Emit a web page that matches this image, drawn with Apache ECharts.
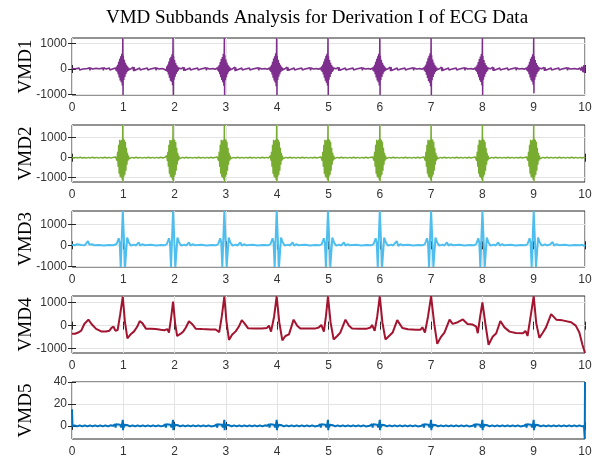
<!DOCTYPE html>
<html>
<head>
<meta charset="utf-8">
<title>VMD Subbands</title>
<script src="https://cdn.jsdelivr.net/npm/echarts@6/dist/echarts.min.js"></script>
<style>
  html, body { margin: 0; padding: 0; background: #fff; }
  #chart { width: 600px; height: 458px; }
</style>
</head>
<body>
<div id="chart"></div>
<script>
// chart text
const titleText = 'VMD Subbands Analysis for Derivation I of ECG Data'
const bandNames = ['VMD1', 'VMD2', 'VMD3', 'VMD4', 'VMD5']

// axis ranges and tick labels (seconds / amplitude)
const xMin = 0
const xMax = 10
const xStep = 1
const yMin = [-1020, -1215, -1035, -1190, -12]
const yMax = [1215, 1635, 1630, 1290, 40]
const yTicks = [
  [-1000, 0, 1000],
  [-1000, 0, 1000],
  [-1000, 0, 1000],
  [-1000, 0, 1000],
  [0, 20, 40]
]

// [time s, amplitude]
const vmd1 = [
  [0, 20], [0.03, -30], [0.07, 10], [0.14, 40], [0.15, -40], [0.16, 30], [0.21, 0], [0.3, 20], [0.34, 50], [0.35, -50], [0.36, 40], [0.4, 0], [0.47, 30], [0.48, -30], [0.53, 10], [0.6, 40], [0.61, -50], [0.62, 50], [0.66, 0], [0.73, 40], [0.74, -40], [0.8, 10],
  [0.85, 40], [0.86, -60], [0.87, 90], [0.88, -110], [0.89, 160], [0.9, -200], [0.91, 280], [0.92, -330], [0.93, 400], [0.94, -450], [0.95, 500], [0.96, -520], [0.97, 600], [0.98, -650], [0.99, 1215], [0.995, -1020], [1.0, 520], [1.01, -430], [1.02, 360], [1.03, -310], [1.04, 240], [1.05, -200], [1.06, 160], [1.07, -130], [1.08, 100], [1.09, -70], [1.1, 50], [1.11, -30],
  [1.15, 10], [1.19, 70], [1.2, -80], [1.21, 70], [1.22, -60], [1.25, 0], [1.32, 40], [1.33, -40], [1.34, 30], [1.39, 0], [1.47, 40], [1.48, -40], [1.53, 0], [1.63, 50], [1.64, -50], [1.65, 40], [1.7, 0], [1.76, 20], [1.8, -10],
  [1.83, 40], [1.84, -60], [1.85, 100], [1.86, -120], [1.87, 170], [1.88, -210], [1.89, 290], [1.9, -340], [1.91, 420], [1.92, -460], [1.93, 480], [1.94, -500], [1.95, 580], [1.96, -640], [1.97, 1215], [1.975, -1020], [1.98, 500], [1.99, -420], [2.0, 350], [2.01, -300], [2.02, 230], [2.03, -190], [2.04, 150], [2.05, -120], [2.06, 90], [2.07, -60], [2.08, 40], [2.09, -30],
  [2.13, 10], [2.17, 60], [2.18, -70], [2.19, 60], [2.2, -50], [2.23, 0], [2.3, 40], [2.31, -40], [2.32, 30], [2.37, 0], [2.45, 40], [2.46, -40], [2.51, 0], [2.61, 50], [2.62, -50], [2.63, 40], [2.68, 0], [2.75, 20], [2.79, -10],
  [2.83, 40], [2.84, -50], [2.85, 90], [2.86, -110], [2.87, 150], [2.88, -200], [2.89, 270], [2.9, -320], [2.91, 390], [2.92, -430], [2.93, 470], [2.94, -520], [2.95, 600], [2.96, -660], [2.97, 1215], [2.975, -1020], [2.98, 540], [2.99, -440], [3.0, 370], [3.01, -320], [3.02, 250], [3.03, -200], [3.04, 160], [3.05, -130], [3.06, 100], [3.07, -70], [3.08, 50], [3.09, -30],
  [3.13, 10], [3.17, 70], [3.18, -80], [3.19, 60], [3.2, -50], [3.23, 0], [3.31, 40], [3.32, -40], [3.33, 30], [3.38, 0], [3.46, 40], [3.47, -40], [3.52, 0], [3.63, 50], [3.64, -50], [3.65, 40], [3.7, 0], [3.76, 20], [3.81, -10],
  [3.85, 40], [3.86, -60], [3.87, 90], [3.88, -120], [3.89, 160], [3.9, -210], [3.91, 280], [3.92, -340], [3.93, 410], [3.94, -450], [3.95, 500], [3.96, -530], [3.97, 620], [3.98, -680], [3.99, 1215], [3.995, -1020], [4.0, 520], [4.01, -430], [4.02, 360], [4.03, -300], [4.04, 240], [4.05, -200], [4.06, 160], [4.07, -120], [4.08, 90], [4.09, -70], [4.1, 50], [4.11, -30],
  [4.15, 10], [4.19, 70], [4.2, -70], [4.21, 60], [4.22, -50], [4.25, 0], [4.33, 40], [4.34, -40], [4.35, 30], [4.4, 0], [4.48, 40], [4.49, -40], [4.54, 0], [4.64, 50], [4.65, -50], [4.66, 40], [4.71, 0], [4.77, 20], [4.81, -10],
  [4.85, 40], [4.86, -60], [4.87, 100], [4.88, -120], [4.89, 170], [4.9, -210], [4.91, 290], [4.92, -340], [4.93, 400], [4.94, -460], [4.95, 520], [4.96, -540], [4.97, 600], [4.98, -650], [4.99, 1215], [4.995, -1020], [5.0, 500], [5.01, -420], [5.02, 350], [5.03, -310], [5.04, 240], [5.05, -190], [5.06, 150], [5.07, -120], [5.08, 90], [5.09, -60], [5.1, 40], [5.11, -30],
  [5.15, 10], [5.19, 60], [5.2, -70], [5.21, 60], [5.22, -50], [5.25, 0], [5.33, 40], [5.34, -40], [5.35, 30], [5.4, 0], [5.48, 40], [5.49, -40], [5.54, 0], [5.65, 50], [5.66, -50], [5.67, 40], [5.72, 0], [5.78, 20], [5.82, -10],
  [5.86, 40], [5.87, -60], [5.88, 90], [5.89, -110], [5.9, 160], [5.91, -200], [5.92, 280], [5.93, -330], [5.94, 400], [5.95, -450], [5.96, 500], [5.97, -520], [5.98, 600], [5.99, -650], [6.0, 1215], [6.005, -1020], [6.01, 520], [6.02, -430], [6.03, 360], [6.04, -310], [6.05, 240], [6.06, -200], [6.07, 160], [6.08, -130], [6.09, 100], [6.1, -70], [6.11, 50], [6.12, -30],
  [6.16, 10], [6.2, 70], [6.21, -80], [6.22, 70], [6.23, -60], [6.26, 0], [6.34, 40], [6.35, -40], [6.36, 30], [6.41, 0], [6.49, 40], [6.5, -40], [6.55, 0], [6.65, 50], [6.66, -50], [6.67, 40], [6.72, 0], [6.78, 20], [6.82, -10],
  [6.86, 40], [6.87, -60], [6.88, 100], [6.89, -120], [6.9, 170], [6.91, -220], [6.92, 290], [6.93, -350], [6.94, 420], [6.95, -470], [6.96, 520], [6.97, -540], [6.98, 620], [6.99, -680], [7.0, 1215], [7.005, -1020], [7.01, 540], [7.02, -440], [7.03, 370], [7.04, -310], [7.05, 250], [7.06, -200], [7.07, 160], [7.08, -130], [7.09, 100], [7.1, -70], [7.11, 50], [7.12, -30],
  [7.16, 10], [7.2, 70], [7.21, -80], [7.22, 60], [7.23, -50], [7.26, 0], [7.34, 40], [7.35, -40], [7.36, 30], [7.41, 0], [7.49, 40], [7.5, -40], [7.55, 0], [7.65, 50], [7.66, -50], [7.67, 40], [7.72, 0], [7.78, 20], [7.82, -10],
  [7.86, 40], [7.87, -60], [7.88, 90], [7.89, -110], [7.9, 160], [7.91, -200], [7.92, 270], [7.93, -320], [7.94, 390], [7.95, -440], [7.96, 490], [7.97, -510], [7.98, 590], [7.99, -640], [8.0, 1215], [8.005, -1020], [8.01, 510], [8.02, -420], [8.03, 350], [8.04, -300], [8.05, 230], [8.06, -190], [8.07, 150], [8.08, -120], [8.09, 90], [8.1, -60], [8.11, 40], [8.12, -30],
  [8.16, 10], [8.2, 70], [8.21, -70], [8.22, 60], [8.23, -50], [8.26, 0], [8.34, 40], [8.35, -40], [8.36, 30], [8.41, 0], [8.49, 40], [8.5, -40], [8.55, 0], [8.65, 50], [8.66, -50], [8.67, 40], [8.72, 0], [8.78, 20], [8.82, -10],
  [8.86, 40], [8.87, -60], [8.88, 90], [8.89, -110], [8.9, 160], [8.91, -200], [8.92, 280], [8.93, -330], [8.94, 400], [8.95, -440], [8.96, 480], [8.97, -500], [8.98, 580], [8.99, -620], [9.0, 1215], [9.005, -950], [9.01, 500], [9.02, -420], [9.03, 350], [9.04, -300], [9.05, 230], [9.06, -190], [9.07, 150], [9.08, -120], [9.09, 90], [9.1, -60], [9.11, 40], [9.12, -30],
  [9.16, 10], [9.2, 60], [9.21, -70], [9.22, 60], [9.23, -50], [9.26, 0], [9.34, 40], [9.35, -40], [9.36, 30], [9.41, 0], [9.49, 40], [9.5, -40], [9.55, 0], [9.65, 50], [9.66, -50], [9.67, 40], [9.72, 0], [9.8, 20], [9.86, -10], [9.9, 40], [9.92, -60], [9.94, 90], [9.96, -120], [9.98, 150], [9.99, -160], [10, 120]
]

const vmd2 = [
  [0, 10], [0.04, -15], [0.08, 15], [0.12, -10], [0.16, 20], [0.2, -15], [0.24, 10], [0.28, -20], [0.32, 15], [0.36, -10], [0.4, 20], [0.44, -15], [0.48, 15], [0.52, -20], [0.56, 15], [0.6, -15], [0.64, 20], [0.68, -15], [0.72, 15], [0.76, -20], [0.8, 15], [0.83, -15],
  [0.85, 40], [0.86, -60], [0.87, 100], [0.88, -150], [0.89, 300], [0.9, -450], [0.91, 650], [0.92, -800], [0.93, 900], [0.94, -950], [0.95, 850], [0.96, -1000], [0.97, 900], [0.98, -1100], [0.99, 1635], [0.995, -1215], [1.0, 950], [1.01, -950], [1.02, 900], [1.03, -850], [1.04, 800], [1.05, -650], [1.06, 500], [1.07, -350], [1.08, 250], [1.09, -150], [1.1, 100], [1.11, -60], [1.12, 40], [1.13, -30],
  [1.17, 15], [1.21, -15], [1.25, 20], [1.29, -15], [1.33, 15], [1.37, -20], [1.41, 15], [1.45, -15], [1.49, 20], [1.53, -15], [1.57, 15], [1.61, -20], [1.65, 15], [1.69, -15], [1.73, 20], [1.77, -15], [1.81, 15],
  [1.83, 40], [1.84, -60], [1.85, 100], [1.86, -160], [1.87, 300], [1.88, -450], [1.89, 650], [1.9, -800], [1.91, 880], [1.92, -950], [1.93, 850], [1.94, -1000], [1.95, 900], [1.96, -1100], [1.97, 1635], [1.975, -1215], [1.98, 950], [1.99, -950], [2.0, 880], [2.01, -850], [2.02, 780], [2.03, -650], [2.04, 500], [2.05, -350], [2.06, 250], [2.07, -150], [2.08, 100], [2.09, -60], [2.1, 40], [2.11, -30],
  [2.15, 15], [2.19, -15], [2.23, 20], [2.27, -15], [2.31, 15], [2.35, -20], [2.39, 15], [2.43, -15], [2.47, 20], [2.51, -15], [2.55, 15], [2.59, -20], [2.63, 15], [2.67, -15], [2.71, 20], [2.75, -15], [2.79, 15],
  [2.83, 40], [2.84, -60], [2.85, 100], [2.86, -150], [2.87, 300], [2.88, -450], [2.89, 650], [2.9, -800], [2.91, 900], [2.92, -950], [2.93, 850], [2.94, -1000], [2.95, 900], [2.96, -1100], [2.97, 1635], [2.975, -1215], [2.98, 950], [2.99, -950], [3.0, 900], [3.01, -850], [3.02, 800], [3.03, -650], [3.04, 500], [3.05, -350], [3.06, 250], [3.07, -150], [3.08, 100], [3.09, -60], [3.1, 40], [3.11, -30],
  [3.15, 15], [3.19, -15], [3.23, 20], [3.27, -15], [3.31, 15], [3.35, -20], [3.39, 15], [3.43, -15], [3.47, 20], [3.51, -15], [3.55, 15], [3.59, -20], [3.63, 15], [3.67, -15], [3.71, 20], [3.75, -15], [3.79, 15], [3.83, -15],
  [3.85, 40], [3.86, -60], [3.87, 100], [3.88, -150], [3.89, 300], [3.9, -450], [3.91, 650], [3.92, -800], [3.93, 900], [3.94, -950], [3.95, 850], [3.96, -1000], [3.97, 900], [3.98, -1100], [3.99, 1635], [3.995, -1215], [4.0, 950], [4.01, -950], [4.02, 900], [4.03, -850], [4.04, 800], [4.05, -650], [4.06, 500], [4.07, -350], [4.08, 250], [4.09, -150], [4.1, 100], [4.11, -60], [4.12, 40], [4.13, -30],
  [4.17, 15], [4.21, -15], [4.25, 20], [4.29, -15], [4.33, 15], [4.37, -20], [4.41, 15], [4.45, -15], [4.49, 20], [4.53, -15], [4.57, 15], [4.61, -20], [4.65, 15], [4.69, -15], [4.73, 20], [4.77, -15], [4.81, 15], [4.83, -15],
  [4.85, 40], [4.86, -60], [4.87, 100], [4.88, -150], [4.89, 300], [4.9, -450], [4.91, 650], [4.92, -800], [4.93, 900], [4.94, -950], [4.95, 850], [4.96, -1000], [4.97, 900], [4.98, -1100], [4.99, 1635], [4.995, -1215], [5.0, 950], [5.01, -950], [5.02, 900], [5.03, -850], [5.04, 800], [5.05, -650], [5.06, 500], [5.07, -350], [5.08, 250], [5.09, -150], [5.1, 100], [5.11, -60], [5.12, 40], [5.13, -30],
  [5.17, 15], [5.21, -15], [5.25, 20], [5.29, -15], [5.33, 15], [5.37, -20], [5.41, 15], [5.45, -15], [5.49, 20], [5.53, -15], [5.57, 15], [5.61, -20], [5.65, 15], [5.69, -15], [5.73, 20], [5.77, -15], [5.81, 15], [5.84, -15],
  [5.86, 40], [5.87, -60], [5.88, 100], [5.89, -150], [5.9, 300], [5.91, -450], [5.92, 650], [5.93, -800], [5.94, 900], [5.95, -950], [5.96, 850], [5.97, -1000], [5.98, 900], [5.99, -1100], [6.0, 1635], [6.005, -1215], [6.01, 950], [6.02, -950], [6.03, 900], [6.04, -850], [6.05, 800], [6.06, -650], [6.07, 500], [6.08, -350], [6.09, 250], [6.1, -150], [6.11, 100], [6.12, -60], [6.13, 40], [6.14, -30],
  [6.18, 15], [6.22, -15], [6.26, 20], [6.3, -15], [6.34, 15], [6.38, -20], [6.42, 15], [6.46, -15], [6.5, 20], [6.54, -15], [6.58, 15], [6.62, -20], [6.66, 15], [6.7, -15], [6.74, 20], [6.78, -15], [6.82, 15], [6.84, -15],
  [6.86, 40], [6.87, -60], [6.88, 100], [6.89, -150], [6.9, 300], [6.91, -450], [6.92, 650], [6.93, -800], [6.94, 900], [6.95, -950], [6.96, 850], [6.97, -1000], [6.98, 900], [6.99, -1100], [7.0, 1635], [7.005, -1215], [7.01, 950], [7.02, -950], [7.03, 900], [7.04, -850], [7.05, 800], [7.06, -650], [7.07, 500], [7.08, -350], [7.09, 250], [7.1, -150], [7.11, 100], [7.12, -60], [7.13, 40], [7.14, -30],
  [7.18, 15], [7.22, -15], [7.26, 20], [7.3, -15], [7.34, 15], [7.38, -20], [7.42, 15], [7.46, -15], [7.5, 20], [7.54, -15], [7.58, 15], [7.62, -20], [7.66, 15], [7.7, -15], [7.74, 20], [7.78, -15], [7.82, 15], [7.84, -15],
  [7.86, 40], [7.87, -60], [7.88, 100], [7.89, -150], [7.9, 300], [7.91, -450], [7.92, 650], [7.93, -800], [7.94, 900], [7.95, -950], [7.96, 850], [7.97, -1000], [7.98, 900], [7.99, -1100], [8.0, 1635], [8.005, -1215], [8.01, 950], [8.02, -950], [8.03, 900], [8.04, -850], [8.05, 800], [8.06, -650], [8.07, 500], [8.08, -350], [8.09, 250], [8.1, -150], [8.11, 100], [8.12, -60], [8.13, 40], [8.14, -30],
  [8.18, 15], [8.22, -15], [8.26, 20], [8.3, -15], [8.34, 15], [8.38, -20], [8.42, 15], [8.46, -15], [8.5, 20], [8.54, -15], [8.58, 15], [8.62, -20], [8.66, 15], [8.7, -15], [8.74, 20], [8.78, -15], [8.82, 15], [8.84, -15],
  [8.86, 40], [8.87, -60], [8.88, 100], [8.89, -150], [8.9, 300], [8.91, -450], [8.92, 650], [8.93, -800], [8.94, 900], [8.95, -950], [8.96, 850], [8.97, -1000], [8.98, 900], [8.99, -1100], [9.0, 1635], [9.005, -1215], [9.01, 950], [9.02, -950], [9.03, 900], [9.04, -850], [9.05, 800], [9.06, -650], [9.07, 500], [9.08, -350], [9.09, 250], [9.1, -150], [9.11, 100], [9.12, -60], [9.13, 40], [9.14, -30],
  [9.18, 15], [9.22, -15], [9.26, 20], [9.3, -15], [9.34, 15], [9.38, -20], [9.42, 15], [9.46, -15], [9.5, 20], [9.54, -15], [9.58, 15], [9.62, -20], [9.66, 15], [9.7, -15], [9.74, 20], [9.78, -15], [9.82, 15], [9.86, -20], [9.9, 15], [9.94, -15], [9.98, 15], [10, 0]
]

const vmd3 = [
  [0, 20], [0.05, 0], [0.1, 50], [0.13, -20], [0.18, 10], [0.25, 0], [0.28, 60], [0.31, 200], [0.34, 30], [0.36, -60], [0.39, 50], [0.43, 0], [0.52, 10], [0.62, -10], [0.72, 10], [0.8, 0],
  [0.87, 60], [0.91, 330], [0.93, 120], [0.95, -1035], [0.99, 1630], [1.035, -1035], [1.075, 360], [1.11, 120], [1.15, -20], [1.21, 30], [1.25, -10], [1.3, 140], [1.33, -20], [1.37, 50], [1.42, 0], [1.54, 20], [1.64, -10], [1.74, 10], [1.81, 0],
  [1.85, 60], [1.89, 330], [1.91, 120], [1.93, -1035], [1.97, 1630], [2.015, -1035], [2.055, 360], [2.09, 120], [2.13, -20], [2.19, 30], [2.23, -10], [2.28, 140], [2.31, -20], [2.35, 50], [2.4, 0], [2.52, 20], [2.62, -10], [2.72, 10], [2.81, 0],
  [2.85, 60], [2.89, 330], [2.91, 120], [2.93, -1035], [2.97, 1630], [3.015, -1035], [3.055, 360], [3.09, 120], [3.13, -20], [3.19, 30], [3.23, -10], [3.28, 140], [3.31, -20], [3.35, 50], [3.4, 0], [3.52, 20], [3.62, -10], [3.72, 10], [3.83, 0],
  [3.87, 60], [3.91, 330], [3.93, 120], [3.95, -1035], [3.99, 1630], [4.035, -1035], [4.075, 360], [4.11, 120], [4.15, -20], [4.21, 30], [4.25, -10], [4.3, 140], [4.33, -20], [4.37, 50], [4.42, 0], [4.54, 20], [4.64, -10], [4.74, 10], [4.83, 0],
  [4.87, 60], [4.91, 330], [4.93, 120], [4.95, -1035], [4.99, 1630], [5.035, -1035], [5.075, 360], [5.11, 120], [5.15, -20], [5.21, 30], [5.25, -10], [5.3, 140], [5.33, -20], [5.37, 50], [5.42, 0], [5.54, 20], [5.64, -10], [5.74, 10], [5.84, 0],
  [5.88, 60], [5.92, 330], [5.94, 120], [5.96, -1035], [6.0, 1630], [6.045, -1035], [6.085, 360], [6.12, 120], [6.16, -20], [6.22, 30], [6.26, -10], [6.33, 200], [6.36, -30], [6.4, 50], [6.45, 0], [6.55, 20], [6.65, -10], [6.75, 10], [6.84, 0],
  [6.88, 60], [6.92, 330], [6.94, 120], [6.96, -1035], [7.0, 1630], [7.045, -1035], [7.085, 360], [7.12, 120], [7.16, -20], [7.22, 30], [7.26, -10], [7.31, 140], [7.34, -20], [7.38, 50], [7.43, 0], [7.55, 20], [7.65, -10], [7.75, 10], [7.84, 0],
  [7.88, 60], [7.92, 330], [7.94, 120], [7.96, -1035], [8.0, 1630], [8.045, -1035], [8.085, 360], [8.12, 120], [8.16, -20], [8.22, 30], [8.26, -10], [8.31, 140], [8.34, -20], [8.38, 50], [8.43, 0], [8.55, 20], [8.65, -10], [8.75, 10], [8.84, 0],
  [8.88, 60], [8.92, 330], [8.94, 120], [8.96, -1035], [9.0, 1630], [9.045, -1035], [9.085, 360], [9.12, 120], [9.16, -20], [9.22, 40], [9.26, -10], [9.32, 40], [9.37, 150], [9.4, -20], [9.44, 50], [9.5, 0], [9.6, 20], [9.7, -10], [9.8, 10], [9.9, 0], [9.95, 20], [10, -50]
]

const vmd4 = [
  [0, -350], [0.06, -350], [0.12, -300], [0.18, -220], [0.24, 70], [0.32, 260], [0.38, 70], [0.47, -140], [0.57, -250], [0.66, -250], [0.73, -220], [0.77, -100], [0.81, -40], [0.845, -220], [0.89, -190], [0.94, 500], [0.99, 1260], [1.03, 200], [1.08, -550], [1.15, -360], [1.21, -250], [1.27, -50], [1.32, 200], [1.375, 100], [1.44, -130], [1.54, -130], [1.63, -150], [1.73, -180], [1.8, -200], [1.83, -120], [1.86, -150], [1.89, -300],
  [1.93, 300], [1.97, 1050], [2.01, 100], [2.05, -450], [2.12, -350], [2.17, -250], [2.22, -80], [2.28, 190], [2.35, 50], [2.41, -130], [2.54, -150], [2.7, -170], [2.8, -170], [2.83, -100], [2.87, -280],
  [2.92, 400], [2.97, 1270], [3.01, 200], [3.06, -620], [3.12, -400], [3.19, -250], [3.25, -50], [3.31, 240], [3.37, 80], [3.43, -110], [3.55, -120], [3.7, -120], [3.8, -100], [3.84, 0], [3.88, -260],
  [3.94, 400], [3.99, 1280], [4.04, 150], [4.1, -640], [4.16, -450], [4.23, -380], [4.32, 260], [4.39, 0], [4.45, -120], [4.6, -120], [4.75, -120], [4.81, -80], [4.86, 30], [4.91, -260],
  [4.95, 400], [4.99, 1270], [5.04, 150], [5.1, -600], [5.17, -450], [5.23, -300], [5.33, 260], [5.4, 0], [5.46, -120], [5.6, -130], [5.75, -130], [5.82, -80], [5.85, 30], [5.9, -230],
  [5.95, 400], [6.0, 1280], [6.05, 150], [6.11, -600], [6.18, -450], [6.25, -300], [6.34, 240], [6.44, -100], [6.55, -160], [6.7, -180], [6.79, -180], [6.83, -70], [6.88, -300],
  [6.94, 400], [7.0, 1280], [7.06, 100], [7.12, -790], [7.19, -500], [7.26, -300], [7.36, 260], [7.42, 75], [7.52, 150], [7.62, 270], [7.71, 75], [7.81, 45], [7.88, -45], [7.91, -330],
  [7.95, 300], [8.0, 1010], [8.06, 50], [8.12, -830], [8.2, -480], [8.27, -330], [8.35, 200], [8.43, -75], [8.53, -260], [8.65, -320], [8.79, -330], [8.84, -230], [8.88, -450],
  [8.94, 400], [9.0, 1280], [9.05, 100], [9.11, -530], [9.18, -300], [9.24, -75], [9.34, 500], [9.44, 260], [9.56, 230], [9.73, 150], [9.82, 0], [9.89, -300], [9.95, -830], [10, -1190]
]

const vmd5 = [
  [0, 15], [0.01, -0.5], [0.05, 0.5], [0.1, -0.5], [0.15, 0.5], [0.2, -0.5], [0.25, 0.5], [0.3, -0.5], [0.35, 0.5], [0.4, -0.5], [0.45, 0.5], [0.5, -0.5], [0.55, 0.5], [0.6, -0.5], [0.65, 0.5], [0.7, -0.5], [0.75, 0.5], [0.8, 0],
  [0.84, 1.5], [0.85, -1.5], [0.86, 1.5], [0.88, 0], [0.94, 1], [0.96, -1.5], [0.98, 2.5], [0.99, 5.5], [0.995, -4], [1.0, 2], [1.01, -1.5], [1.03, 1], [1.06, -0.5], [1.09, 0.5],
  [1.13, -0.5], [1.18, 0.5], [1.23, -0.5], [1.28, 0.5], [1.33, -0.5], [1.38, 0.5], [1.43, -0.5], [1.48, 0.5], [1.53, -0.5], [1.58, 0.5], [1.63, -0.5], [1.68, 0.5], [1.73, -0.5], [1.78, 0],
  [1.82, 1.5], [1.83, -1.5], [1.84, 1.5], [1.86, 0], [1.92, 1], [1.94, -1.5], [1.96, 2.5], [1.97, 5.5], [1.975, -4], [1.98, 2], [1.99, -1.5], [2.01, 1], [2.04, -0.5], [2.07, 0.5],
  [2.11, -0.5], [2.16, 0.5], [2.21, -0.5], [2.26, 0.5], [2.31, -0.5], [2.36, 0.5], [2.41, -0.5], [2.46, 0.5], [2.51, -0.5], [2.56, 0.5], [2.61, -0.5], [2.66, 0.5], [2.71, -0.5], [2.78, 0],
  [2.82, 1.5], [2.83, -1.5], [2.84, 1.5], [2.86, 0], [2.92, 1], [2.94, -1.5], [2.96, 2.5], [2.97, 5.5], [2.975, -4], [2.98, 2], [2.99, -1.5], [3.01, 1], [3.04, -0.5], [3.07, 0.5],
  [3.11, -0.5], [3.16, 0.5], [3.21, -0.5], [3.26, 0.5], [3.31, -0.5], [3.36, 0.5], [3.41, -0.5], [3.46, 0.5], [3.51, -0.5], [3.56, 0.5], [3.61, -0.5], [3.66, 0.5], [3.71, -0.5], [3.76, 0.5], [3.8, 0],
  [3.84, 1.5], [3.85, -1.5], [3.86, 1.5], [3.88, 0], [3.94, 1], [3.96, -1.5], [3.98, 2.5], [3.99, 5.5], [3.995, -4], [4.0, 2], [4.01, -1.5], [4.03, 1], [4.06, -0.5], [4.09, 0.5],
  [4.13, -0.5], [4.18, 0.5], [4.23, -0.5], [4.28, 0.5], [4.33, -0.5], [4.38, 0.5], [4.43, -0.5], [4.48, 0.5], [4.53, -0.5], [4.58, 0.5], [4.63, -0.5], [4.68, 0.5], [4.73, -0.5], [4.8, 0],
  [4.84, 1.5], [4.85, -1.5], [4.86, 1.5], [4.88, 0], [4.94, 1], [4.96, -1.5], [4.98, 2.5], [4.99, 5.5], [4.995, -4], [5.0, 2], [5.01, -1.5], [5.03, 1], [5.06, -0.5], [5.09, 0.5],
  [5.13, -0.5], [5.18, 0.5], [5.23, -0.5], [5.28, 0.5], [5.33, -0.5], [5.38, 0.5], [5.43, -0.5], [5.48, 0.5], [5.53, -0.5], [5.58, 0.5], [5.63, -0.5], [5.68, 0.5], [5.73, -0.5], [5.8, 0],
  [5.85, 1.5], [5.86, -1.5], [5.87, 1.5], [5.89, 0], [5.95, 1], [5.97, -1.5], [5.99, 2.5], [6.0, 5.5], [6.005, -4], [6.01, 2], [6.02, -1.5], [6.04, 1], [6.07, -0.5], [6.1, 0.5],
  [6.14, -0.5], [6.19, 0.5], [6.24, -0.5], [6.29, 0.5], [6.34, -0.5], [6.39, 0.5], [6.44, -0.5], [6.49, 0.5], [6.54, -0.5], [6.59, 0.5], [6.64, -0.5], [6.69, 0.5], [6.74, -0.5], [6.81, 0],
  [6.85, 1.5], [6.86, -1.5], [6.87, 1.5], [6.89, 0], [6.95, 1], [6.97, -1.5], [6.99, 2.5], [7.0, 5.5], [7.005, -4], [7.01, 2], [7.02, -1.5], [7.04, 1], [7.07, -0.5], [7.1, 0.5],
  [7.14, -0.5], [7.19, 0.5], [7.24, -0.5], [7.29, 0.5], [7.34, -0.5], [7.39, 0.5], [7.44, -0.5], [7.49, 0.5], [7.54, -0.5], [7.59, 0.5], [7.64, -0.5], [7.69, 0.5], [7.74, -0.5], [7.81, 0],
  [7.85, 1.5], [7.86, -1.5], [7.87, 1.5], [7.89, 0], [7.95, 1], [7.97, -1.5], [7.99, 2.5], [8.0, 5.5], [8.005, -4], [8.01, 2], [8.02, -1.5], [8.04, 1], [8.07, -0.5], [8.1, 0.5],
  [8.14, -0.5], [8.19, 0.5], [8.24, -0.5], [8.29, 0.5], [8.34, -0.5], [8.39, 0.5], [8.44, -0.5], [8.49, 0.5], [8.54, -0.5], [8.59, 0.5], [8.64, -0.5], [8.69, 0.5], [8.74, -0.5], [8.81, 0],
  [8.85, 1.5], [8.86, -1.5], [8.87, 1.5], [8.89, 0], [8.95, 1], [8.97, -1.5], [8.99, 2.5], [9.0, 5.5], [9.005, -4], [9.01, 2], [9.02, -1.5], [9.04, 1], [9.07, -0.5], [9.1, 0.5],
  [9.14, -0.5], [9.19, 0.5], [9.24, -0.5], [9.29, 0.5], [9.34, -0.5], [9.39, 0.5], [9.44, -0.5], [9.49, 0.5], [9.54, -0.5], [9.59, 0.5], [9.64, -0.5], [9.69, 0.5], [9.74, -0.5], [9.79, 0.5], [9.84, -0.5], [9.89, 0.5], [9.94, -0.5], [9.98, 0], [9.995, -12], [10, 40]
]

const bands = [vmd1, vmd2, vmd3, vmd4, vmd5]

// layout / style (MATLAB default line colours)
const colors = ['#7E2F8E', '#77AC30', '#4DBEEE', '#A2142F', '#0072BD']
const lineWidths = [1.5, 1.5, 2, 2, 2]
const panelTop = [38, 125, 211, 296, 382]
const panelHeight = [57, 57, 56, 57, 57]
const axisColor = '#262626'
const gridColor = '#e3e3e3'
const labelFont = 'Liberation Sans, Arial, sans-serif'
const serifFont = 'Liberation Serif, Times New Roman, serif'

const chart = echarts.init(document.getElementById('chart'), null, { renderer: 'canvas' })

const grid = []
const xAxis = []
const yAxis = []
const series = []
const graphic = [{
  type: 'text',
  x: 317,
  y: 18,
  style: { text: titleText, font: '19px ' + serifFont, fill: '#000', align: 'center', verticalAlign: 'middle' }
}]

bands.forEach(function(data, i) {
  grid.push({
    left: 72,
    width: 513,
    top: panelTop[i],
    height: panelHeight[i],
    show: true,
    borderColor: axisColor,
    borderWidth: 1,
    backgroundColor: '#fff'
  })
  // bottom axis with labels
  xAxis.push({
    gridIndex: i,
    type: 'value',
    min: xMin,
    max: xMax,
    interval: xStep,
    axisLine: { show: false },
    axisTick: { inside: true, length: 4, lineStyle: { color: axisColor } },
    axisLabel: { margin: 7, fontSize: 12, color: '#333', fontFamily: labelFont },
    splitLine: { show: true, lineStyle: { color: gridColor, width: 1 } }
  })
  // top axis, ticks only
  xAxis.push({
    gridIndex: i,
    type: 'value',
    position: 'top',
    min: xMin,
    max: xMax,
    interval: xStep,
    axisLine: { show: false },
    axisTick: { inside: true, length: 4, lineStyle: { color: axisColor } },
    axisLabel: { show: false },
    splitLine: { show: false }
  })
  yAxis.push({
    gridIndex: i,
    type: 'value',
    min: yMin[i],
    max: yMax[i],
    axisLine: { show: false },
    axisTick: { inside: true, length: 4, customValues: yTicks[i], lineStyle: { color: axisColor } },
    axisLabel: {
      margin: 5,
      fontSize: 12,
      color: '#333',
      fontFamily: labelFont,
      customValues: yTicks[i],
      formatter: function(v) { return String(v) }
    },
    splitLine: { show: true, lineStyle: { color: gridColor, width: 1 } }
  })
  yAxis.push({
    gridIndex: i,
    type: 'value',
    position: 'right',
    min: yMin[i],
    max: yMax[i],
    axisLine: { show: false },
    axisTick: { inside: true, length: 4, customValues: yTicks[i], lineStyle: { color: axisColor } },
    axisLabel: { show: false },
    splitLine: { show: false }
  })
  series.push({
    name: bandNames[i],
    type: 'line',
    xAxisIndex: i * 2,
    yAxisIndex: i * 2,
    data: data,
    symbol: 'none',
    showSymbol: false,
    clip: true,
    silent: true,
    lineStyle: { color: colors[i], width: lineWidths[i] },
    itemStyle: { color: colors[i] }
  })
  graphic.push({
    type: 'text',
    x: 26,
    y: panelTop[i] + panelHeight[i] / 2,
    rotation: Math.PI / 2,
    style: { text: bandNames[i], font: '19px ' + serifFont, fill: '#000', align: 'center', verticalAlign: 'middle' }
  })
})

const option = {
  backgroundColor: '#fff',
  animation: false,
  grid: grid,
  xAxis: xAxis,
  yAxis: yAxis,
  series: series,
  graphic: graphic
}

option && chart.setOption(option)
</script>
</body>
</html>
